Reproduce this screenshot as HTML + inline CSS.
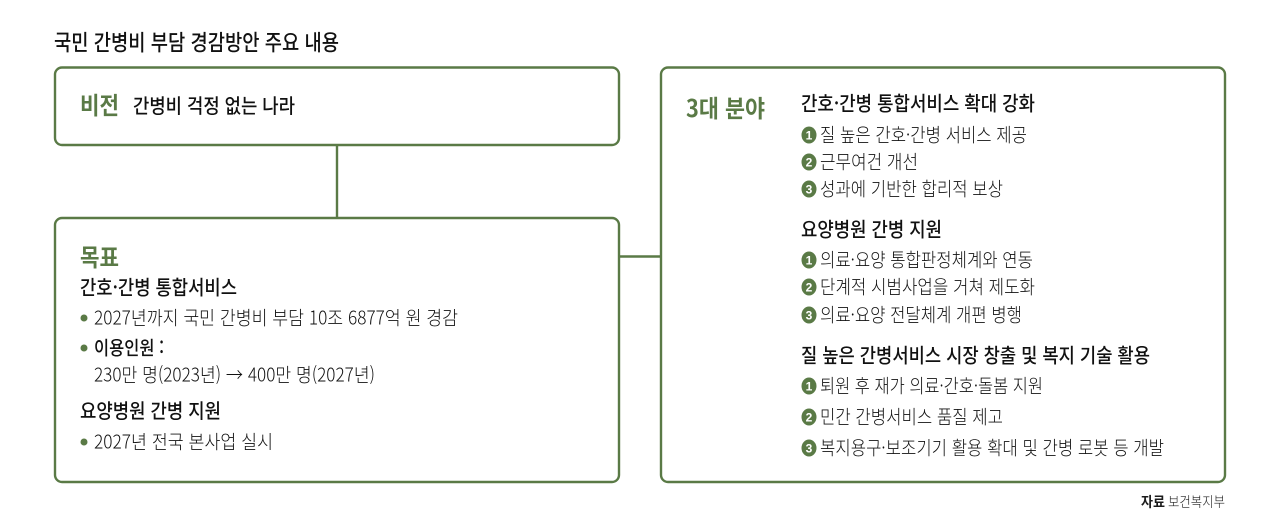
<!DOCTYPE html>
<html lang="ko">
<head>
<meta charset="utf-8">
<title>국민 간병비 부담 경감방안 주요 내용</title>
<style>
html,body{margin:0;padding:0;background:#fff;width:1280px;height:529px;overflow:hidden}
svg{display:block}
text{font-family:"Liberation Sans","Noto Sans CJK KR",sans-serif;fill:#1c1c1c}
.k{font-family:"Noto Sans CJK KR","Liberation Sans",sans-serif}
.t{font-size:22px;font-weight:500;fill:#111}
.g{font-size:24px;font-weight:700;fill:#5a7a46}
.h{font-size:20px;font-weight:500;fill:#111}
.b{font-size:19px;font-weight:300;fill:#111}
.m{font-size:19px;font-weight:500;fill:#111}
.n{font-size:12px;font-weight:700;fill:#fff;font-family:"Liberation Sans",sans-serif}
.box{fill:#fff;stroke:#5a7a46;stroke-width:2.4}
.ln{stroke:#5a7a46;stroke-width:2.4;fill:none}
.dot{fill:#5a7a46}
</style>
</head>
<body>
<svg width="1280" height="529" viewBox="0 0 1280 529" xmlns="http://www.w3.org/2000/svg">
<text class="k t" x="54" y="50.500" textLength="285" lengthAdjust="spacingAndGlyphs">국민 간병비 부담 경감방안 주요 내용</text>

<line class="ln" x1="337" y1="145" x2="337" y2="218"/>
<line class="ln" x1="619" y1="256.500" x2="661" y2="256.500"/>
<rect class="box" x="55" y="67.500" width="564" height="77.500" rx="7"/>
<rect class="box" x="55" y="218" width="564" height="264" rx="7"/>
<rect class="box" x="661" y="67.500" width="564" height="414.500" rx="7"/>

<text class="k g" x="80" y="114" textLength="39" lengthAdjust="spacingAndGlyphs">비전</text>
<text class="k h" x="133" y="113" textLength="162" lengthAdjust="spacingAndGlyphs">간병비 걱정 없는 나라</text>

<text class="k g" x="80" y="266" textLength="39" lengthAdjust="spacingAndGlyphs">목표</text>
<text class="k h" x="80" y="294.500" textLength="157" lengthAdjust="spacingAndGlyphs">간호·간병 통합서비스</text>
<circle class="dot" cx="84" cy="318" r="3.500"/>
<text class="k b" x="94" y="324.500" textLength="364" lengthAdjust="spacingAndGlyphs">2027년까지 국민 간병비 부담 10조 6877억 원 경감</text>
<circle class="dot" cx="84" cy="348" r="3.500"/>
<text class="k m" x="94" y="354.500" textLength="70" lengthAdjust="spacingAndGlyphs">이용인원 :</text>
<text class="k b" x="94" y="381.500" textLength="281" lengthAdjust="spacingAndGlyphs">230만 명(2023년) → 400만 명(2027년)</text>
<text class="k h" x="80" y="418" textLength="141" lengthAdjust="spacingAndGlyphs">요양병원 간병 지원</text>
<circle class="dot" cx="84" cy="442" r="3.500"/>
<text class="k b" x="94" y="448.500" textLength="179" lengthAdjust="spacingAndGlyphs">2027년 전국 본사업 실시</text>

<text class="k g" x="686" y="117" textLength="79" lengthAdjust="spacingAndGlyphs">3대 분야</text>

<text class="k h" x="801" y="110.500" textLength="234" lengthAdjust="spacingAndGlyphs">간호·간병 통합서비스 확대 강화</text>
<ellipse class="dot" cx="809" cy="135" rx="7.500" ry="8.500"/><text class="n" x="809" y="139.500" text-anchor="middle">1</text>
<text class="k b" x="820" y="141.500" textLength="207" lengthAdjust="spacingAndGlyphs">질 높은 간호·간병 서비스 제공</text>
<ellipse class="dot" cx="809" cy="162" rx="7.500" ry="8.500"/><text class="n" x="809" y="166.500" text-anchor="middle">2</text>
<text class="k b" x="820" y="168.500" textLength="98" lengthAdjust="spacingAndGlyphs">근무여건 개선</text>
<ellipse class="dot" cx="809" cy="189" rx="7.500" ry="8.500"/><text class="n" x="809" y="193.500" text-anchor="middle">3</text>
<text class="k b" x="820" y="195.500" textLength="183" lengthAdjust="spacingAndGlyphs">성과에 기반한 합리적 보상</text>

<text class="k h" x="801" y="236.500" textLength="141" lengthAdjust="spacingAndGlyphs">요양병원 간병 지원</text>
<ellipse class="dot" cx="809" cy="260" rx="7.500" ry="8.500"/><text class="n" x="809" y="264.500" text-anchor="middle">1</text>
<text class="k b" x="820" y="266.500" textLength="213" lengthAdjust="spacingAndGlyphs">의료·요양 통합판정체계와 연동</text>
<ellipse class="dot" cx="809" cy="287" rx="7.500" ry="8.500"/><text class="n" x="809" y="291.500" text-anchor="middle">2</text>
<text class="k b" x="820" y="293.500" textLength="215" lengthAdjust="spacingAndGlyphs">단계적 시범사업을 거쳐 제도화</text>
<ellipse class="dot" cx="809" cy="315" rx="7.500" ry="8.500"/><text class="n" x="809" y="319.500" text-anchor="middle">3</text>
<text class="k b" x="820" y="321.500" textLength="202" lengthAdjust="spacingAndGlyphs">의료·요양 전달체계 개편 병행</text>

<text class="k h" x="801" y="362.500" textLength="349" lengthAdjust="spacingAndGlyphs">질 높은 간병서비스 시장 창출 및 복지 기술 활용</text>
<ellipse class="dot" cx="809" cy="386" rx="7.500" ry="8.500"/><text class="n" x="809" y="390.500" text-anchor="middle">1</text>
<text class="k b" x="820" y="392.500" textLength="223" lengthAdjust="spacingAndGlyphs">퇴원 후 재가 의료·간호·돌봄 지원</text>
<ellipse class="dot" cx="809" cy="417" rx="7.500" ry="8.500"/><text class="n" x="809" y="421.500" text-anchor="middle">2</text>
<text class="k b" x="820" y="423.500" textLength="183" lengthAdjust="spacingAndGlyphs">민간 간병서비스 품질 제고</text>
<ellipse class="dot" cx="809" cy="448" rx="7.500" ry="8.500"/><text class="n" x="809" y="452.500" text-anchor="middle">3</text>
<text class="k b" x="820" y="454.500" textLength="344" lengthAdjust="spacingAndGlyphs">복지용구·보조기기 활용 확대 및 간병 로봇 등 개발</text>

<text class="k" x="1141" y="507" font-size="14" font-weight="700" textLength="24" lengthAdjust="spacingAndGlyphs">자료</text>
<text class="k" x="1168" y="507" font-size="14" font-weight="300" textLength="57" lengthAdjust="spacingAndGlyphs">보건복지부</text>
</svg>
</body>
</html>
